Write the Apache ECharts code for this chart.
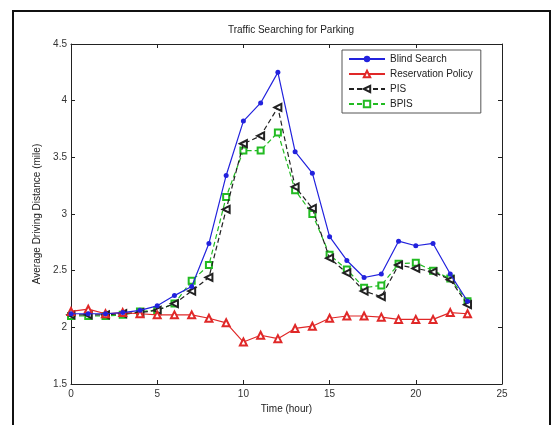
<!DOCTYPE html>
<html>
<head>
<meta charset="utf-8">
<script src="https://cdn.jsdelivr.net/npm/echarts@6/dist/echarts.min.js"></script>
<style>
html,body{margin:0;padding:0;background:#fff;}
#c{width:555px;height:425px;}
</style>
</head>
<body>
<div id="c"></div>
<script>
var hours = [0,1,2,3,4,5,6,7,8,9,10,11,12,13,14,15,16,17,18,19,20,21,22,23];
var blindSearch = [2.12,2.12,2.12,2.13,2.15,2.19,2.28,2.36,2.74,3.34,3.82,3.98,4.25,3.55,3.36,2.80,2.59,2.44,2.47,2.76,2.72,2.74,2.47,2.23];
var reservation = [2.14,2.16,2.12,2.13,2.12,2.11,2.11,2.11,2.08,2.04,1.87,1.93,1.90,1.99,2.01,2.08,2.10,2.10,2.09,2.07,2.07,2.07,2.13,2.12];
var pis = [2.11,2.11,2.11,2.12,2.13,2.15,2.21,2.32,2.44,3.04,3.62,3.69,3.94,3.24,3.05,2.61,2.48,2.32,2.27,2.55,2.52,2.49,2.42,2.20];
var bpis = [2.10,2.10,2.10,2.11,2.14,2.15,2.21,2.41,2.55,3.15,3.56,3.56,3.72,3.21,3.00,2.64,2.51,2.35,2.37,2.56,2.57,2.50,2.43,2.23];
var xTicks = [0,5,10,15,20,25];
var yTicks = [1.5,2,2.5,3,3.5,4,4.5];
var seriesNames = ['Blind Search','Reservation Policy','PIS','BPIS'];

function pairs(v){ return hours.map(function(h,i){ return [h, v[i]]; }); }
var font = 'Liberation Sans, Arial, sans-serif';
var chart = echarts.init(document.getElementById('c'));
var axisCommon = {
  axisLine:{show:true, onZero:false, lineStyle:{color:'#222', width:1}},
  axisTick:{show:true, inside:true, length:4, lineStyle:{color:'#222'}},
  splitLine:{show:false}
};
chart.setOption({
  backgroundColor:'#fff',
  animation:false,
  title:{text:'Traffic Searching for Parking', left:286, top:20, textAlign:'center',
    textStyle:{fontFamily:font, fontSize:10, fontWeight:'normal', color:'#222'}},
  grid:{left:71, right:53, top:44, bottom:41, show:false},
  legend:{
    orient:'vertical', left:342, top:50, itemGap:5, itemWidth:36, itemHeight:8,
    padding:[4,8,4,6], borderColor:'#555', borderWidth:1, backgroundColor:'#fff',
    textStyle:{fontFamily:font, fontSize:10, color:'#222'},
    data:seriesNames
  },
  xAxis:[
    Object.assign({type:'value', min:0, max:25, interval:5, position:'bottom',
      name:'Time (hour)', nameLocation:'middle', nameGap:16,
      nameTextStyle:{fontFamily:font, fontSize:10, color:'#222'},
      axisLabel:{fontFamily:font, fontSize:10, color:'#333', margin:5,
        customValues:xTicks}}, axisCommon),
    Object.assign({type:'value', min:0, max:25, interval:5, position:'top',
      axisLabel:{show:false}}, axisCommon)
  ],
  yAxis:[
    Object.assign({type:'value', min:1.5, max:4.5, interval:0.5, position:'left',
      name:'Average Driving Distance (mile)', nameLocation:'middle', nameGap:27,
      nameTextStyle:{fontFamily:font, fontSize:10, color:'#222'},
      axisLabel:{fontFamily:font, fontSize:10, color:'#333', margin:4}}, axisCommon),
    Object.assign({type:'value', min:1.5, max:4.5, interval:0.5, position:'right',
      axisLabel:{show:false}}, axisCommon)
  ],
  series:[
    {name:seriesNames[0], type:'line', data:pairs(blindSearch), symbol:'circle', symbolSize:5,
      lineStyle:{color:'#2222dd', width:1.2}, itemStyle:{color:'#2222dd'}, z:5},
    {name:seriesNames[1], type:'line', data:pairs(reservation), symbol:'emptyTriangle', symbolSize:7,
      lineStyle:{color:'#e02828', width:1.2}, itemStyle:{color:'#e02828', borderWidth:1}, z:4},
    {name:seriesNames[2], type:'line', data:pairs(pis), symbol:'emptyTriangle', symbolRotate:90, symbolSize:7,
      lineStyle:{color:'#222', width:1.2, type:[5,3]}, itemStyle:{color:'#222', borderWidth:1}, z:3},
    {name:seriesNames[3], type:'line', data:pairs(bpis), symbol:'emptyRect', symbolSize:6,
      lineStyle:{color:'#22bb22', width:1.2, type:[5,3]}, itemStyle:{color:'#22bb22', borderWidth:1}, z:2}
  ],
  graphic:[
    {type:'rect', shape:{x:13, y:11, width:537, height:440}, style:{fill:null, stroke:'#111', lineWidth:2}, silent:true}
  ]
});
</script>
</body>
</html>
